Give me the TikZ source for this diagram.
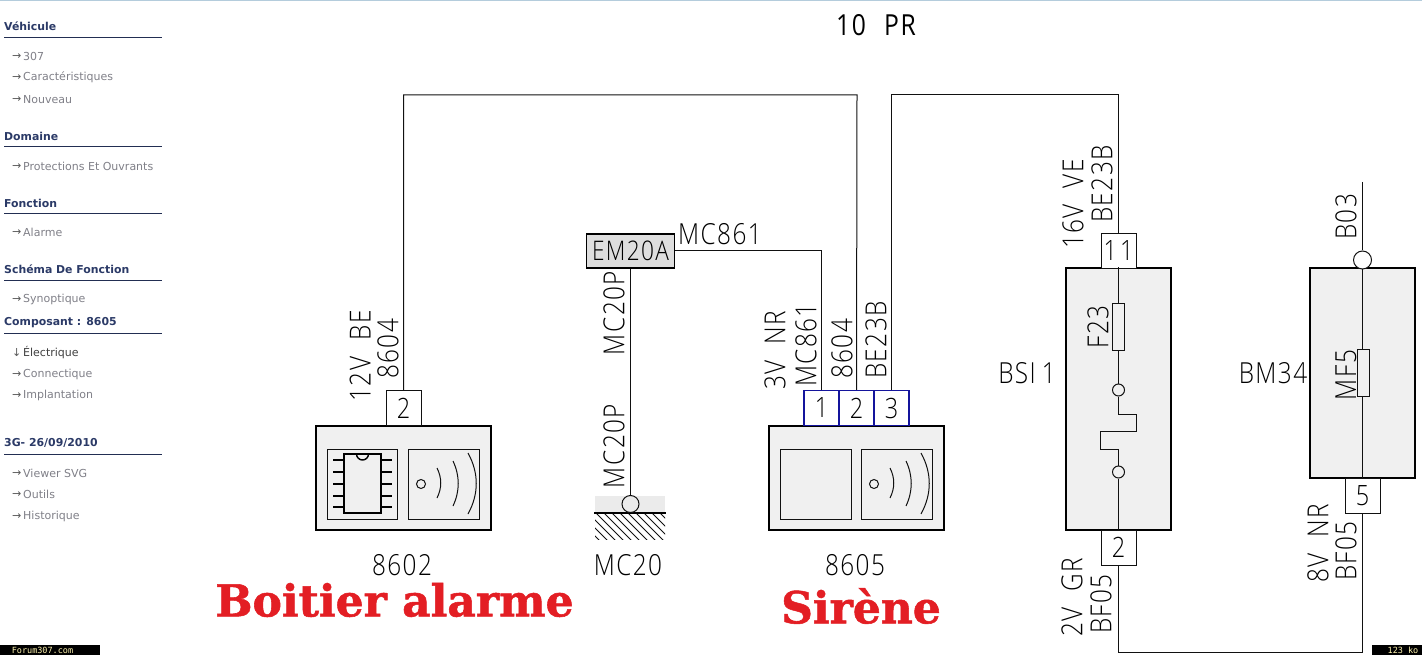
\documentclass[tikz,border=0pt]{standalone}
\usepackage{fontspec}
\setmainfont{DejaVu Sans}
\newfontfamily\cadf[FakeStretch=0.84,LetterSpace=5]{Open Sans Light}
\newfontfamily\titlef[FakeStretch=0.85,LetterSpace=6]{Open Sans}
\newfontfamily\slabf[BoldFeatures={FakeBold=1.2}]{DejaVu Serif}
\newfontfamily\monof{DejaVu Sans Mono}
\definecolor{navy}{HTML}{2B3A67}
\definecolor{itemgrey}{HTML}{808088}
\definecolor{panel}{HTML}{F0F0F0}
\definecolor{wirec}{HTML}{111111}
\definecolor{pinblue}{HTML}{14149C}
\definecolor{alarmred}{HTML}{E31E24}
\definecolor{footy}{HTML}{FFF5B0}
\definecolor{topline}{HTML}{B4CCDC}
\tikzset{
  wire/.style={draw=wirec,line width=1pt},
  mainbox/.style={draw=black,fill=panel,line width=1.25pt,inner sep=0pt,minimum width=#1},
  pinbox/.style={draw=wirec,fill=white,line width=1pt,inner sep=0pt,minimum width=35pt,minimum height=35pt,font=\cadf\fontsize{28}{28}\selectfont},
  bluepin/.style={pinbox,draw=pinblue,line width=1.2pt},
  innerbox/.style={draw=wirec,line width=1pt,inner sep=0pt,minimum width=70.5pt,minimum height=70pt},
  cad/.style={inner sep=0pt,font=\cadf\fontsize{29}{29}\selectfont,text=black},
  vcad/.style={cad,rotate=90},
  heading/.style={anchor=west,inner sep=0pt,text=navy,font=\bfseries\fontsize{10.9}{11}\selectfont},
  item/.style={anchor=west,inner sep=0pt,text=itemgrey,font=\fontsize{11}{11}\selectfont},
  navarrow/.style={anchor=west,inner sep=0pt,text=black!65,font=\fontsize{11}{11}\selectfont},
  headrule/.style={draw=navy!80!black,line width=1pt},
  fusebox/.style={draw=wirec,fill=panel,line width=1pt,inner sep=0pt,minimum width=12pt,minimum height=47pt},
  tcirc/.style={circle,draw=wirec,fill=panel,line width=1pt,inner sep=0pt,minimum size=#1},
  bigred/.style={inner sep=0pt,text=alarmred,font=\slabf\bfseries\fontsize{44}{44}\selectfont},
  foottext/.style={inner sep=0pt,text=footy,font=\monof\fontsize{8.5}{8.5}\selectfont},
  footbar/.style={fill=black,draw=none,inner sep=0pt,minimum height=10pt},
}
\newcommand{\sonar}[1]{%
  \begin{scope}[xshift=#1]
    \node[tcirc=9pt,fill=none] (dot#1) at (421,484) {};
    \draw[wirec,line width=1pt] (437,468) .. controls (442,478) and (442,488) .. (437,498);
    \draw[wirec,line width=1pt] (453,461) .. controls (460,476) and (460,491) .. (453,506);
    \draw[wirec,line width=1pt] (468,453) .. controls (479,473) and (479,494) .. (468,514);
  \end{scope}}
\newcommand{\navhead}[4]{%
  \node[heading] (h#1) at (4,#2) {#4};
  \coordinate (hl#1) at (4,#3);
  \coordinate (hr#1) at (162,#3);
  \draw[headrule] (hl#1) -- (hr#1);}
\newcommand{\navitem}[3][→]{%
  \node[navarrow] (a#2) at (12,#2) {#1};
  \node[item] (i#2) at (23,#2) {#3};}
\begin{document}
\begin{tikzpicture}[x=1pt,y=-1pt]
\useasboundingbox (0,0) rectangle (1422,655);
\fill[white] (0,0) rectangle (1422,655);
\fill[topline] (0,0) rectangle (1422,1.5);
% sidebar
\navhead{a}{26}{37.5}{Véhicule}
\navitem{56.5}{307}
\navitem{77.5}{Caractéristiques}
\navitem{99.5}{Nouveau}
\navhead{b}{136}{146.5}{Domaine}
\navitem{166.5}{Protections Et Ouvrants}
\navhead{c}{203}{213.5}{Fonction}
\navitem{232.5}{Alarme}
\navhead{d}{269}{280.5}{Schéma De Fonction}
\navitem{299.5}{Synoptique}
\navhead{e}{323}{333.5}{Composant : 8605}
\node[navarrow] (a352) at (12,352.5) {↓};
\node[item,text=black!75] (i352) at (23,352.5) {Électrique};
\navitem{374.5}{Connectique}
\navitem{395.5}{Implantation}
\navhead{f}{443}{454.5}{3G- 26/09/2010}
\navitem{473.5}{Viewer SVG}
\navitem{494.5}{Outils}
\navitem{516.5}{Historique}
% title
\node[inner sep=0pt,font=\titlef\fontsize{29}{29}\selectfont] (title) at (876,25) {10\hspace{18pt}PR};
% corners
\coordinate (c1) at (403.5,95);
\coordinate (c2) at (857,95);
\coordinate (c3) at (891.5,95);
\coordinate (c4) at (1118.5,95);
\coordinate (c5) at (821.5,251);
\coordinate (c6) at (1118.5,652);
\coordinate (c7) at (1362.5,652);
\coordinate (c8) at (1362.5,182);
% 8602
\node[mainbox=175pt,minimum height=104pt] (m8602) at (403.5,478) {};
\node[pinbox] (p8602) at (403.5,408) {2};
\node[innerbox,fill=panel] (ia) at (362.5,484) {};
\node[innerbox,fill=panel] (ib) at (444,484) {};
\foreach \y in {460,472,484,496,507}{\draw[black,line width=1.4pt] (333,\y) -- (392,\y);}
\node[draw=black,fill=panel,line width=2pt,inner sep=0pt,minimum width=37pt,minimum height=59pt] (chip) at (362.5,483.5) {};
\begin{scope}
\clip (350,454) rectangle (375,465);
\draw[black,line width=1.4pt] (362.5,454) circle (6);
\end{scope}
\sonar{0}
% ground
\fill[black!8] (595,496) rectangle (665,512);
\begin{scope}
\clip (595,512) rectangle (665,539);
\foreach \k in {-32,-24,...,72}{\draw[wirec,line width=1pt] (595+\k,512) -- (595+\k+30,542);}
\end{scope}
\draw[black,line width=2pt] (594,512.5) -- (666,512.5);
\node[tcirc=17pt,fill=black!8] (gnd) at (630.5,504) {};
\node[draw=black,fill=black!13,line width=1.1pt,inner sep=0pt,minimum width=88pt,minimum height=34pt,font=\cadf\fontsize{27}{27}\selectfont] (em) at (630.5,251) {EM20A};
\draw[wire] (em.south) -- (gnd.north);
% 8605
\node[mainbox=175pt,minimum height=104pt] (m8605) at (856.5,478) {};
\node[bluepin] (s1) at (821.5,408) {1};
\node[bluepin] (s2) at (856.5,408) {2};
\node[bluepin] (s3) at (891.5,408) {3};
\node[innerbox] (ic) at (816,484) {};
\node[innerbox] (id) at (897,484) {};
\sonar{453}
\draw[wire] (em.east) -- (c5) -- (s1.north);
\draw[wire] (p8602.north) -- (c1) -- (c2) -- (s2.north);
\draw[wire] (s3.north) -- (c3) -- (c4);
% BSI
\node[mainbox=105pt,minimum height=262pt] (bsi) at (1118.5,399) {};
\node[pinbox] (b11) at (1118.5,251) {1\hspace{3pt}1};
\node[pinbox] (b2) at (1118.5,547.5) {2};
\node[tcirc=12pt] (ba) at (1118.5,390) {};
\node[tcirc=12pt] (bb) at (1118.5,472) {};
\coordinate (z1) at (1118.5,414);
\coordinate (z2) at (1136,414);
\coordinate (z3) at (1136,431);
\coordinate (z4) at (1100.5,431);
\coordinate (z5) at (1100.5,449);
\coordinate (z6) at (1118.5,449);
\draw[wire] (bsi.north) -- (ba.north);
\draw[wire] (ba.south) -- (z1) -- (z2) -- (z3) -- (z4) -- (z5) -- (z6) -- (bb.north);
\draw[wire] (bb.south) -- (b2.north);
\node[fusebox] (f23) at (1118.5,327) {};
\draw[wire] (c4) -- (b11.north);
% BM34
\node[mainbox=105pt,minimum height=210pt] (bm) at (1362.5,373) {};
\node[pinbox] (b5) at (1362.5,495.5) {5};
\node[tcirc=18pt,fill=white] (b03) at (1362.5,260) {};
\draw[wire] (c8) -- (b03.north);
\draw[wire] (b03.south) -- (b5.north);
\node[fusebox] (mf5) at (1363,373) {};
\draw[wire] (b2.south) -- (c6) -- (c7) -- (b5.south);
% labels
\node[vcad] (l1) at (360,356) {12V\hspace{16pt}BE};
\node[vcad] (l2) at (388,349) {8604};
\node[cad] (l3) at (720,234) {MC861};
\node[vcad] (l4) at (614,313) {MC20P};
\node[vcad] (l5) at (614,446) {MC20P};
\node[vcad] (l6) at (775,350) {3V\hspace{16pt}NR};
\node[vcad] (l7) at (806,345) {MC861};
\node[vcad] (l8) at (842,349) {8604};
\node[vcad] (l9) at (876,340) {BE23B};
\node[vcad] (l10) at (1073,204) {16V\hspace{16pt}VE};
\node[vcad] (l11) at (1102,184) {BE23B};
\node[vcad] (l12) at (1346,217) {B03};
\node[vcad] (l13) at (1098,327) {F23};
\node[vcad] (l14) at (1346,375) {MF5};
\node[vcad] (l15) at (1072,597) {2V\hspace{16pt}GR};
\node[vcad] (l16) at (1101,604) {BF05};
\node[vcad] (l17) at (1318,543) {8V\hspace{16pt}NR};
\node[vcad] (l18) at (1346,551) {BF05};
\node[cad] (n1) at (402,565) {8602};
\node[cad] (n2) at (628,565) {MC20};
\node[cad] (n3) at (855,565) {8605};
\node[cad] (n4) at (1027,373) {BSI\hspace{6pt}1};
\node[cad] (n5) at (1273,373) {BM34};
% red
\node[bigred] (r1) at (394.5,600) {Boitier alarme};
\node[bigred] (r2) at (861,606) {Sirène};
% footer
\node[footbar,minimum width=100pt] (fa) at (50,650) {};
\node[foottext] (fat) at (42.5,650) {Forum307.com};
\node[footbar,minimum width=50pt] (fb) at (1397,650) {};
\node[foottext] (fbt) at (1403,650) {123 ko};
\end{tikzpicture}
\end{document}
